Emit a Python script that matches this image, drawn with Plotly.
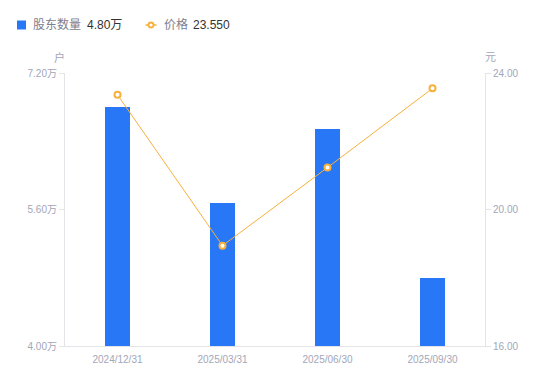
import plotly.graph_objects as go

categories = ["2024/12/31", "2025/03/31", "2025/06/30", "2025/09/30"]
holders_wan = [6.80, 5.68, 6.54, 4.80]
price = [23.36, 18.94, 21.23, 23.55]
left_ticks = [4.0, 5.6, 7.2]
left_ticktext = ["4.00万", "5.60万", "7.20万"]
right_ticks = [16, 20, 24]
right_ticktext = ["16.00", "20.00", "24.00"]
legend_holders = "股东数量"
legend_holders_val = "4.80万"
legend_price = "价格"
legend_price_val = "23.550"

BLUE = "#2777F6"
ORANGE = "#F8B03C"
TICK = "#A3A6B8"
AXIS = "#E4E4E8"
FONT = "Liberation Sans, Noto Sans CJK SC, sans-serif"

# page body has an 8px offset; work in reference pixel coordinates and shift
OFF = 8
W, H = 550 - OFF, 381 - OFF
L, R, T, B = 65, 485, 73, 346


def px(x):
    return (x - L) / (R - L)


def py(y):
    return (B - y) / (B - T)


fig = go.Figure()
fig.add_trace(go.Bar(x=categories, y=holders_wan, width=0.24,
                     marker=dict(color=BLUE, line=dict(width=0)),
                     name=legend_holders, yaxis="y", showlegend=False))
fig.add_trace(go.Scatter(x=categories, y=price, mode="lines+markers",
                         line=dict(color=ORANGE, width=1),
                         marker=dict(size=6, color="white", line=dict(color=ORANGE, width=2)),
                         name=legend_price, yaxis="y2", showlegend=False))

shapes = [
    dict(type="rect", xref="paper", yref="paper", x0=px(17), x1=px(26), y0=py(20.5), y1=py(29.5),
         fillcolor=BLUE, line=dict(width=0), layer="above"),
    dict(type="line", xref="paper", yref="paper", x0=px(145.5), x1=px(156.5), y0=py(25), y1=py(25),
         line=dict(color=ORANGE, width=1.5)),
    dict(type="circle", xref="paper", yref="paper", x0=px(148.5), x1=px(153.5), y0=py(22.5), y1=py(27.5),
         fillcolor="white", line=dict(color=ORANGE, width=1.8)),
]

annotations = [
    dict(x=px(31), y=py(25), xref="paper", yref="paper", text=legend_holders, showarrow=False,
         xanchor="left", yanchor="middle", font=dict(size=12, color="#7D8090", family=FONT)),
    dict(x=px(85), y=py(25), xref="paper", yref="paper", text=legend_holders_val, showarrow=False,
         xanchor="left", yanchor="middle", font=dict(size=12, color="#333333", family=FONT)),
    dict(x=px(162), y=py(25), xref="paper", yref="paper", text=legend_price, showarrow=False,
         xanchor="left", yanchor="middle", font=dict(size=12, color="#7D8090", family=FONT)),
    dict(x=px(191), y=py(25), xref="paper", yref="paper", text=legend_price_val, showarrow=False,
         xanchor="left", yanchor="middle", font=dict(size=12, color="#333333", family=FONT)),
    dict(x=px(59), y=py(57), xref="paper", yref="paper", text="户", showarrow=False,
         xanchor="center", yanchor="middle", font=dict(size=11, color=TICK, family=FONT)),
    dict(x=px(490), y=py(57), xref="paper", yref="paper", text="元", showarrow=False,
         xanchor="center", yanchor="middle", font=dict(size=11, color=TICK, family=FONT)),
]

fig.update_layout(
    width=W, height=H,
    margin=dict(l=L - OFF, r=550 - R, t=T - OFF, b=381 - B),
    paper_bgcolor="white", plot_bgcolor="white",
    font=dict(family=FONT, size=10, color=TICK),
    bargap=0,
    shapes=shapes,
    annotations=annotations,
    xaxis=dict(type="category", range=[-0.5, 3.5], showgrid=False, zeroline=False,
               showline=True, linecolor=AXIS, linewidth=1,
               ticks="", tickfont=dict(size=10, color=TICK), ticklabelstandoff=4),
    yaxis=dict(range=[4.0, 7.2], tickvals=left_ticks, ticktext=left_ticktext,
               showgrid=False, zeroline=False, showline=True, linecolor=AXIS, linewidth=1,
               ticks="outside", ticklen=5, tickcolor=AXIS, tickfont=dict(size=10, color=TICK)),
    yaxis2=dict(range=[16, 24], tickvals=right_ticks, ticktext=right_ticktext,
                overlaying="y", side="right", showgrid=False, zeroline=False,
                showline=True, linecolor=AXIS, linewidth=1,
                ticks="outside", ticklen=5, tickcolor=AXIS, tickfont=dict(size=10, color=TICK)),
)

fig.write_html("out.html")
